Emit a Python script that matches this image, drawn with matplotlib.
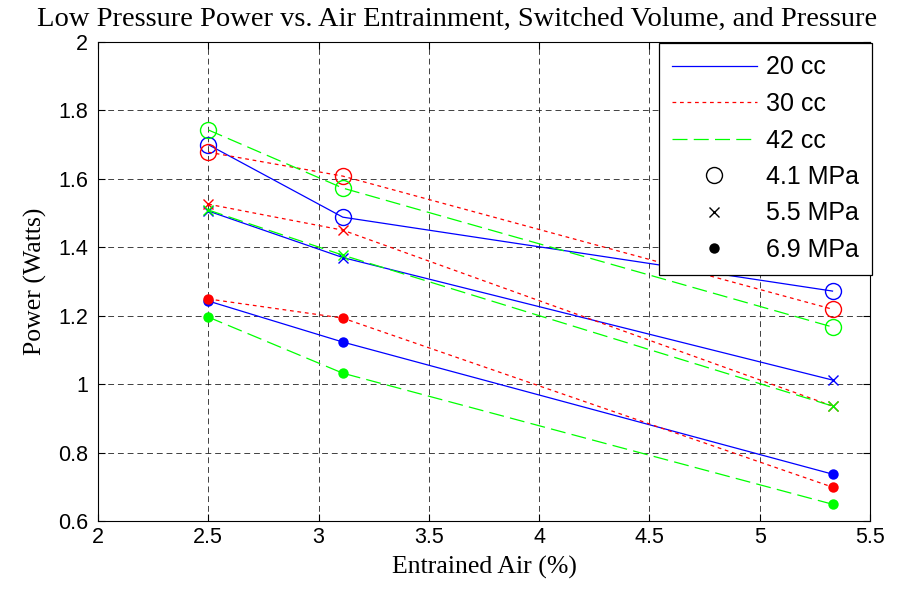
import matplotlib
matplotlib.use('Agg')
import matplotlib.pyplot as plt
from matplotlib.lines import Line2D

# Entrained air (%) for the three operating points
air = [2.5, 3.11, 5.33]

# Power (Watts) for each switched volume, one list per pressure
p20_41 = [1.70, 1.488, 1.272]
p20_55 = [1.506, 1.370, 1.012]
p20_69 = [1.243, 1.123, 0.737]

p30_41 = [1.678, 1.608, 1.219]
p30_55 = [1.526, 1.450, 0.936]
p30_69 = [1.249, 1.193, 0.699]

p42_41 = [1.743, 1.573, 1.167]
p42_55 = [1.509, 1.377, 0.936]
p42_69 = [1.196, 1.032, 0.649]

volumes = ['20 cc', '30 cc', '42 cc']
pressures = ['4.1 MPa', '5.5 MPa', '6.9 MPa']
xticks = [2, 2.5, 3, 3.5, 4, 4.5, 5, 5.5]
yticks = [0.6, 0.8, 1, 1.2, 1.4, 1.6, 1.8, 2]

fig = plt.figure(figsize=(9.07, 5.98), dpi=100)
ax = fig.add_axes([98 / 907, 1 - 521 / 598, 772 / 907, 479 / 598])

styles = {
    '20 cc': dict(color=(0, 0, 1), linestyle='-'),
    '30 cc': dict(color=(1, 0, 0), dashes=(3, 3)),
    '42 cc': dict(color=(0, 1, 0), dashes=(12, 5)),
}
marks = {
    '4.1 MPa': dict(marker='o', markersize=11.5, markerfacecolor='none'),
    '5.5 MPa': dict(marker='x', markersize=6.5),
    '6.9 MPa': dict(marker='o', markersize=7.5, markeredgewidth=0),
}

series = {
    '20 cc': [p20_41, p20_55, p20_69],
    '30 cc': [p30_41, p30_55, p30_69],
    '42 cc': [p42_41, p42_55, p42_69],
}

for vol in volumes:
    for pr, vals in zip(pressures, series[vol]):
        st = styles[vol]
        mk = dict(marks[pr])
        if pr == '6.9 MPa':
            mk['markerfacecolor'] = st['color']
        ax.plot(air, vals, linewidth=0.9, markeredgecolor=st['color'], **st, **mk)

ax.set_xlim(2, 5.5)
ax.set_ylim(0.6, 2)
ax.set_xticks(xticks)
ax.set_xticklabels([f'{t:g}' for t in xticks])
ax.set_yticks(yticks)
ax.set_yticklabels([f'{t:g}' for t in yticks])
ax.tick_params(direction='in', length=5, labelsize=15.5, top=True, right=True)
ax.tick_params(axis='x', pad=4)
ax.tick_params(axis='y', pad=7)
for lab in ax.get_xticklabels() + ax.get_yticklabels():
    lab.set_family('Liberation Sans')
ax.grid(True, color='black', linestyle=(0, (6, 4)), linewidth=0.7, alpha=0.75)
for sp in ax.spines.values():
    sp.set_linewidth(0.8)

ax.set_xlabel('Entrained Air (%)', family='Liberation Serif', fontsize=18.5, labelpad=6)
ax.set_ylabel('Power (Watts)', family='Liberation Serif', fontsize=18.5, labelpad=8)
fig.text(457 / 907, 1 - 26 / 598,
         'Low Pressure Power vs. Air Entrainment, Switched Volume, and Pressure',
         family='Liberation Serif', fontsize=20.5, ha='center', va='baseline')

handles = [
    Line2D([], [], color=(0, 0, 1), linewidth=0.9),
    Line2D([], [], color=(1, 0, 0), linewidth=0.9, dashes=(3, 3)),
    Line2D([], [], color=(0, 1, 0), linewidth=0.9, dashes=(12, 5)),
    Line2D([], [], linestyle='none', marker='o', markersize=11.5,
           markerfacecolor='none', markeredgecolor='black'),
    Line2D([], [], linestyle='none', marker='x', markersize=6.5, color='black'),
    Line2D([], [], linestyle='none', marker='o', markersize=7.5,
           markerfacecolor='black', markeredgewidth=0),
]
leg = ax.legend(handles, volumes + pressures, loc='upper right',
                bbox_to_anchor=(872 / 907, 1 - 43 / 598), bbox_transform=fig.transFigure,
                prop={'family': 'Liberation Sans', 'size': 18},
                fancybox=False, edgecolor='black', framealpha=1,
                borderaxespad=0, borderpad=0.5, handlelength=3.4,
                handletextpad=0.4, labelspacing=0.5)
leg.get_frame().set_linewidth(0.9)

fig.savefig('out.png', dpi=100)
